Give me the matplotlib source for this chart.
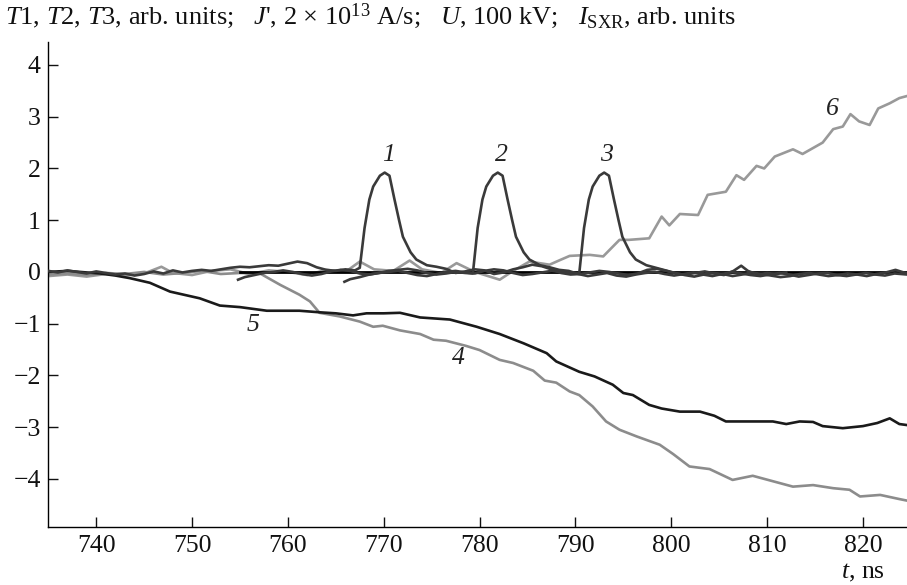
import matplotlib
matplotlib.use("Agg")
import matplotlib.pyplot as plt

plt.rcParams['font.family'] = ['Liberation Serif', 'DejaVu Serif']
plt.rcParams['mathtext.fontset'] = 'custom'
plt.rcParams['mathtext.rm'] = 'Liberation Serif'
plt.rcParams['mathtext.it'] = 'Liberation Serif:italic'
plt.rcParams['mathtext.bf'] = 'Liberation Serif:bold'

# ---------------- data ----------------
t1 = [735, 736, 737, 738, 739, 740, 741, 742, 743, 744, 745, 746, 747, 748, 749, 750, 751, 752, 753, 754,
      755, 756, 757, 758, 759, 760, 761, 762, 763, 764, 765, 766, 767, 767.5, 768.0, 768.5, 768.9, 769.6,
      770.1, 770.6, 771.1, 771.6, 772.0, 772.8, 773.4, 774.5, 775.5, 776.5, 777.5, 778.5, 779.5, 780.5,
      781.5, 782.5, 783.5, 784.5, 785.5, 786.5, 787.5, 788.5, 789.5, 790.5, 791.5, 792.5, 793.5, 794.5,
      795.5, 796.5, 797.5, 798.5, 799.5, 800.5, 801.5, 802.5, 803.5, 804.5, 805.5, 806.5, 807.3, 808, 809,
      810, 811, 812]
y1 = [0.02, -0.01, 0.03, 0.00, -0.03, 0.01, -0.02, -0.05, -0.03, -0.07, -0.04, 0.01, -0.03, 0.03, -0.01,
      0.02, 0.04, 0.02, 0.05, 0.08, 0.10, 0.09, 0.11, 0.13, 0.12, 0.16, 0.20, 0.17, 0.09, 0.04, 0.02, 0.05,
      0.03, 0.08, 0.85, 1.40, 1.65, 1.86, 1.92, 1.86, 1.42, 1.00, 0.68, 0.38, 0.24, 0.13, 0.10, 0.06, -0.02,
      0.01, 0.05, 0.03, -0.04, -0.01, 0.05, 0.09, 0.14, 0.11, 0.05, -0.02, -0.05, -0.04, -0.01, 0.02, 0.00,
      -0.03, -0.06, -0.03, 0.04, 0.06, 0.02, -0.03, -0.05, -0.02, 0.01, -0.03, -0.06, 0.02, 0.12, 0.02,
      -0.05, -0.02, -0.04, -0.01]

t2 = [754.8, 755.5, 756.5, 757.5, 758.5, 759.5, 760.5, 761.5, 762.5, 763.5, 764.5, 765.5, 766.5, 767.5,
      768.5, 769.5, 770.5, 771.5, 772.5, 773.5, 774.5, 775.5, 776.5, 777.5, 778.5, 779.3, 779.8, 780.3,
      780.7, 781.4, 781.9, 782.4, 782.9, 783.4, 783.8, 784.6, 785.2, 786.3, 787.3, 788.3, 789.3, 790.3,
      791.3, 792.3, 793.3, 794.3, 795.3, 796.3, 797.3, 798.3, 799.3, 800.3, 801.3, 802.3, 803.3, 804.3,
      805.3, 806.3, 807.3, 808.3, 809.3, 810.3, 811.3, 812.3, 813.3, 814.3, 815.3, 816.3, 817.3, 818.3,
      819.3, 820.3, 821.3, 822.3, 823.3, 824.6]
y2 = [-0.15, -0.10, -0.06, -0.02, 0.00, 0.03, 0.00, -0.04, -0.07, -0.04, 0.01, 0.04, 0.02, -0.03, -0.05,
      -0.02, 0.02, 0.04, 0.06, 0.03, -0.02, -0.05, -0.03, 0.00, -0.02, -0.03, 0.85, 1.40, 1.65, 1.86, 1.92,
      1.86, 1.42, 1.00, 0.68, 0.38, 0.24, 0.13, 0.09, 0.04, 0.02, -0.04, -0.08, -0.05, -0.02, -0.07, -0.09,
      -0.05, -0.02, 0.00, -0.04, -0.07, -0.04, -0.01, -0.05, -0.08, -0.04, 0.00, -0.03, -0.06, -0.08,
      -0.05, -0.02, -0.05, -0.09, -0.06, -0.03, -0.02, -0.06, -0.08, -0.05, -0.02, -0.05, -0.07, -0.03,
      -0.05]

t3 = [765.9, 766.5, 767.5, 768.5, 769.5, 770.5, 771.5, 772.5, 773.5, 774.5, 775.5, 776.5, 777.5, 778.5,
      779.5, 780.5, 781.5, 782.5, 783.5, 784.5, 785.5, 786.5, 787.5, 788.5, 789.5, 790.4, 790.9, 791.4,
      791.8, 792.5, 793.0, 793.5, 794.0, 794.5, 794.9, 795.7, 796.3, 797.4, 798.4, 799.4, 800.4, 801.4,
      802.4, 803.4, 804.4, 805.4, 806.4, 807.4, 808.4, 809.4, 810.4, 811.4, 812.4, 813.4, 814.4, 815.4,
      816.4, 817.4, 818.4, 819.4, 820.4, 821.4, 822.4, 823.4, 824.6]
y3 = [-0.19, -0.14, -0.10, -0.05, -0.02, 0.00, 0.02, -0.02, -0.06, -0.08, -0.04, 0.00, 0.02, -0.01, -0.03,
      0.02, 0.05, 0.03, -0.02, -0.06, -0.04, -0.01, 0.02, 0.00, -0.02, -0.03, 0.85, 1.40, 1.65, 1.86, 1.92,
      1.86, 1.42, 1.00, 0.68, 0.38, 0.24, 0.13, 0.08, 0.03, -0.02, -0.06, -0.09, -0.05, -0.02, -0.04,
      -0.08, -0.05, -0.01, -0.04, -0.07, -0.10, -0.08, -0.04, -0.02, -0.05, -0.08, -0.06, -0.03, -0.05,
      -0.08, -0.04, -0.01, 0.04, -0.03]

t4 = [735, 737, 739, 741, 743, 745, 747, 749, 751, 753, 755, 757.1, 759.2, 761.2, 762.3, 763.3, 765.4,
      767.5, 768.9, 769.9, 771.7, 773.8, 775.2, 776.5, 778.6, 780.0, 782.1, 783.5, 785.6, 786.8, 788.0,
      789.4, 790.4, 791.8, 793.2, 794.6, 796.4, 798.8, 800.2, 801.9, 804.0, 806.4, 808.5, 810.3, 812.7,
      814.8, 816.9, 818.6, 819.7, 821.8, 823.8, 824.6]
y4 = [-0.05, -0.03, -0.06, -0.02, -0.04, 0.00, -0.05, -0.02, 0.02, -0.04, -0.02, -0.03, -0.25, -0.44,
      -0.57, -0.79, -0.86, -0.96, -1.06, -1.04, -1.13, -1.20, -1.31, -1.33, -1.43, -1.51, -1.70, -1.76,
      -1.91, -2.10, -2.14, -2.31, -2.38, -2.60, -2.89, -3.05, -3.18, -3.34, -3.52, -3.76, -3.81, -4.02,
      -3.94, -4.03, -4.15, -4.12, -4.18, -4.21, -4.34, -4.31, -4.39, -4.42]

t5 = [735, 737, 739, 740.4, 742, 743.5, 745.6, 747.7, 750.8, 752.9, 755.0, 757.8, 761.2, 763.3, 765,
      766.8, 768.2, 770, 771.7, 773.8, 776.9, 779.7, 782.1, 784.6, 787.0, 788.0, 790.4, 792, 793.9, 795.0,
      796.0, 797.7, 799, 800.9, 803.0, 804.5, 805.7, 808, 810.6, 812.0, 813.4, 814.8, 815.8, 817.9, 820.0,
      821.5, 822.8, 823.8, 824.6]
y5 = [0.00, 0.02, -0.01, -0.03, -0.07, -0.12, -0.21, -0.38, -0.51, -0.65, -0.68, -0.75, -0.75, -0.78,
      -0.80, -0.84, -0.80, -0.80, -0.79, -0.88, -0.92, -1.06, -1.20, -1.38, -1.57, -1.73, -1.93, -2.02,
      -2.18, -2.34, -2.38, -2.57, -2.64, -2.70, -2.70, -2.78, -2.89, -2.89, -2.89, -2.94, -2.89, -2.90,
      -2.98, -3.02, -2.98, -2.92, -2.83, -2.94, -2.96]

t6 = [735, 737, 739, 741, 743, 745, 746.8, 748, 750, 752, 754, 756, 758, 760, 762, 764, 766, 767.5, 769,
      771, 772.7, 774, 776, 777.6, 779.5, 782.1, 783.5, 785.2, 787.3, 788.4, 789.4, 791.5, 792.9, 794.6,
      795.6, 797.7, 799.0, 799.8, 800.9, 802.8, 803.8, 805.7, 806.8, 807.6, 808.9, 809.7, 810.8, 812.7,
      813.7, 815.8, 816.9, 817.9, 818.7, 819.6, 820.7, 821.6, 822.8, 823.8, 824.6]
y6 = [-0.08, -0.05, -0.09, -0.04, -0.07, -0.03, 0.10, -0.02, -0.06, 0.02, 0.05, -0.04, 0.03, 0.00, -0.06,
      0.04, 0.00, 0.20, 0.05, 0.02, 0.22, 0.05, -0.02, 0.17, 0.00, -0.15, 0.02, 0.20, 0.14, 0.23, 0.31,
      0.33, 0.30, 0.62, 0.62, 0.65, 1.07, 0.90, 1.12, 1.10, 1.49, 1.55, 1.87, 1.78, 2.05, 2.00, 2.23, 2.37,
      2.28, 2.50, 2.76, 2.81, 3.05, 2.91, 2.84, 3.16, 3.26, 3.36, 3.40]

zero_t = [755, 824.6]
zero_y = [0, 0]

curve_labels = ['1', '2', '3', '4', '5', '6']
label_t = [770.5, 782.3, 793.2, 777.8, 756.4, 816.8]
label_y = [2.26, 2.26, 2.26, -1.67, -1.02, 3.14]

xticks = [740, 750, 760, 770, 780, 790, 800, 810, 820]
yticks = [-4, -3, -2, -1, 0, 1, 2, 3, 4]

# ---------------- figure ----------------
W, H = 907, 585
fig = plt.figure(figsize=(W / 100, H / 100), dpi=100)
ax = fig.add_axes([48.3 / W, (H - 527) / H, (W - 48.3) / W, (527 - 41.7) / H])

lw = 1.9
dark = '#3a3a3a'
gray = '#8c8c8c'
ax.plot(zero_t, zero_y, color='black', lw=2.0, zorder=3)
ax.plot(t6, y6, color='#999999', lw=lw, zorder=2)
ax.plot(t4, y4, color=gray, lw=lw, zorder=2)
ax.plot(t5, y5, color='#1a1a1a', lw=lw, zorder=3)
ax.plot(t1, y1, color=dark, lw=lw, zorder=4)
ax.plot(t2, y2, color=dark, lw=lw, zorder=4)
ax.plot(t3, y3, color=dark, lw=lw, zorder=4)

for s, tx, ty in zip(curve_labels, label_t, label_y):
    ax.text(tx, ty, s, fontsize=18.5, style='italic', ha='center', va='center', color='#222222')

ax.set_xlim(735, 824.6)
ax.set_ylim(-4.93, 4.45)
ax.set_xticks(xticks)
ax.set_yticks(yticks)
ax.set_xticklabels([str(v) for v in xticks])
ax.set_yticklabels([('\u2212' + str(-v)) if v < 0 else str(v) for v in yticks])
for side in ('top', 'right'):
    ax.spines[side].set_visible(False)
for side in ('left', 'bottom'):
    ax.spines[side].set_linewidth(1.0)
ax.tick_params(direction='in', length=7.2, width=1.0, labelsize=18.5, pad=5.5, colors='#111111')

fig.text(5 / W, 1 - 24 / H,
         r"$T$1, $T$2, $T$3, arb. units;   $J$', 2 × 10$^{13}$ A/s;   $U$, 100 kV;   $I_{\rm SXR}$, arb. units",
         fontsize=19, ha='left', va='baseline', color='#111111')
fig.text(863 / W, 1 - 578 / H, r"$t$, ns", fontsize=18.5, ha='center', va='baseline', color='#111111')

fig.savefig('out.png', dpi=100)
